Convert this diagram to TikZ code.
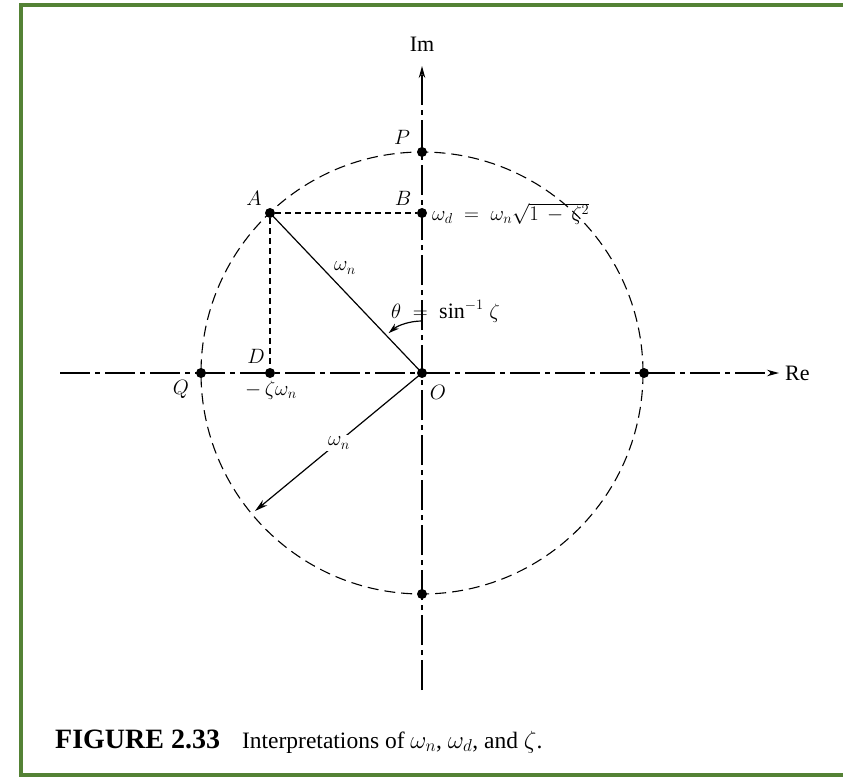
\documentclass[tikz,border=0pt]{standalone}
\usepackage{fontspec}
\setmainfont{Liberation Serif}
\usetikzlibrary{arrows.meta}
\definecolor{framegreen}{RGB}{84,130,53}
\newcommand{\lblsize}{\fontsize{22}{26}\selectfont}
\newcommand{\mathsize}{\fontsize{22}{26}\selectfont}
\begin{document}
\begin{tikzpicture}[x=1pt,y=-1pt,
  axisline/.style={line width=1.4pt, dash pattern=on 30pt off 5pt on 5pt off 5pt},
  circline/.style={line width=1.1pt, dash pattern=on 11pt off 6pt},
  projline/.style={line width=1.3pt, dash pattern=on 6pt off 4pt},
  vecline/.style={line width=1.2pt},
  dot/.style={circle, fill=black, inner sep=0pt, minimum size=10pt},
  lbl/.style={font=\lblsize, inner sep=1pt},
  mlbl/.style={font=\mathsize, inner sep=1pt},
  tip/.style={-{Stealth[length=12pt,width=6.5pt]}}
]
\useasboundingbox (0,0) rectangle (843,778);
\fill[white] (0,0) rectangle (843,778);
% frame
\draw[framegreen, line width=4.5pt] (860,5) -- (21,5) -- (21,775) -- (860,775);

% coordinates
\coordinate (xl) at (60,373);
\coordinate (xr) at (779,373);
\coordinate (yb) at (422,690);
\coordinate (yt) at (422,66);
\coordinate (W) at (255,511);

% circle
\node[dot] (O) at (422,373) {};
\draw[circline] (O) circle (221);

% axes
\draw[axisline, tip] (xl) -- (xr);
\draw[axisline, tip] (yb) -- (yt);
\node[lbl, anchor=west] (Re) at ([xshift=5pt]xr) {Re};
\node[lbl] (Im) at (422,44) {Im};

% points
\node[dot] (P) at (422,152) {};
\node[dot] (Q) at (201,373) {};
\node[dot] (R) at (644,373) {};
\node[dot] (S) at (422,594) {};
\node[dot] (A) at (270,213) {};
\node[dot] (B) at (422,213) {};
\node[dot] (D) at (270,373) {};

% projections
\draw[projline] (A) -- (B);
\draw[projline] (A) -- (D);
% radius
\draw[vecline] (O.center) -- (A.center);
\draw[vecline, -{Stealth[length=13pt,width=7pt]}] (O.center) -- (W);

% angle arc
\draw[vecline, -{Stealth[length=11pt,width=6.5pt]}] (422,321) arc[start angle=-90, end angle=-130, radius=52];

% labels
\node[mlbl] (lP) at (402,137) {$P$};
\node[mlbl] (lA) at (254,198) {$A$};
\node[mlbl] (lB) at (403,198) {$B$};
\node[mlbl, anchor=west] (lwd) at (431,214) {$\omega_d\;=\;\omega_n\sqrt{1\,-\,\zeta^2}$};
\node[mlbl] (lwn1) at (345,268) {$\omega_n$};
\node[mlbl, anchor=west] (lth) at (390,311) {$\theta\;=\;\mathrm{sin}^{-1}\;\zeta$};
\node[mlbl] (lD) at (256,356) {$D$};
\node[mlbl] (lQ) at (181,389) {$Q$};
\node[mlbl] (lzw) at (271,390) {$-\,\zeta\omega_n$};
\node[mlbl] (lO) at (438,392) {$O$};
\node[mlbl, fill=white, inner sep=2pt] (lwn2) at (339,443) {$\omega_n$};

% caption
\node[anchor=base west, inner sep=0pt] (cap) at (55,748) {\fontsize{28}{32}\selectfont\textbf{FIGURE 2.33}\hspace{22pt}\fontsize{23.5}{28}\selectfont Interpretations of $\omega_n$, $\omega_d$, and $\zeta$.};
\end{tikzpicture}
\end{document}
